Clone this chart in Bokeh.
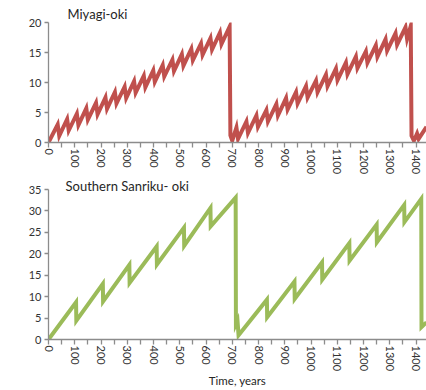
from bokeh.plotting import figure
from bokeh.layouts import column
from bokeh.models import FixedTicker, Range1d
from bokeh.embed import file_html
from bokeh.resources import INLINE

# ---- data ----
miyagi_years = [0, 35, 41, 71, 77, 108, 114, 144, 150, 181, 187, 217, 223, 253, 259,
                290, 296, 326, 332, 363, 369, 399, 405, 435, 441, 472, 478, 508, 514,
                544, 550, 581, 587, 617, 623, 653, 659, 690, 693, 700,
                716, 722, 754, 760, 792, 798, 830, 836, 868, 874, 905, 911, 943, 949,
                981, 987, 1019, 1025, 1057, 1063, 1095, 1101, 1133, 1139, 1171, 1177,
                1209, 1215, 1247, 1253, 1284, 1290, 1322, 1328, 1360, 1366, 1380, 1383,
                1392, 1404, 1410, 1440]
miyagi_slip = [0, 3.0, 1.1, 3.9, 2.0, 4.8, 2.9, 5.7, 3.8, 6.6, 4.7, 7.5, 5.6, 8.4, 6.5,
               9.3, 7.4, 10.2, 8.3, 11.1, 9.2, 12.0, 10.1, 12.9, 11.0, 13.8, 11.9, 14.7, 12.8,
               15.6, 13.7, 16.5, 14.6, 17.4, 15.5, 18.3, 16.4, 19.3, 1.2, 0.3,
               2.5, 0.6, 3.5, 1.6, 4.5, 2.6, 5.4, 3.5, 6.4, 4.5, 7.4, 5.5, 8.4, 6.5,
               9.4, 7.5, 10.3, 8.4, 11.3, 9.4, 12.3, 10.4, 13.3, 11.4, 14.3, 12.4,
               15.2, 13.3, 16.2, 14.3, 17.2, 15.3, 18.2, 16.3, 19.2, 17.3, 19.4, 1.1,
               0.3, 1.5, 0.6, 2.6]

sanriku_years = [0, 105, 106, 207, 208, 308, 309, 412, 413, 516, 517, 617, 618, 713, 714,
                 720, 724, 832, 833, 937, 938, 1042, 1043, 1146, 1147, 1250, 1251,
                 1355, 1356, 1420, 1421, 1440]
sanriku_slip = [0, 8.7, 4.4, 13.0, 8.9, 17.4, 13.2, 21.7, 17.5, 26.1, 21.9, 30.7, 26.4,
                33.1, 3.6, 4.4, 1.0, 9.3, 5.2, 13.5, 9.5, 18.0, 14.0, 22.5, 18.4, 26.8,
                22.7, 31.4, 27.4, 32.8, 2.9, 4.0]

x_major = [0, 100, 200, 300, 400, 500, 600, 700, 800, 900, 1000, 1100, 1200, 1300, 1400]
x_minor = [50, 150, 250, 350, 450, 550, 650, 750, 850, 950, 1050, 1150, 1250, 1350, 1450]
top_yticks = [0, 5, 10, 15, 20]
bottom_yticks = [0, 5, 10, 15, 20, 25, 30, 35]
titles = ["Miyagi-oki", "Southern Sanriku- oki"]
x_label = "Time, years"

FONT = "Lato"
AXIS_COL = "#8c8c8c"
TEXT_COL = "#333333"


def style(p, yticks, title, title_offset, title_standoff):
    p.xgrid.visible = False
    p.ygrid.visible = False
    p.outline_line_color = None
    p.xaxis.ticker = FixedTicker(ticks=x_major, minor_ticks=x_minor)
    p.yaxis.ticker = FixedTicker(ticks=yticks)
    for ax in (p.xaxis, p.yaxis):
        ax.axis_line_color = AXIS_COL
        ax.axis_line_width = 1.3
        ax.major_tick_line_color = AXIS_COL
        ax.minor_tick_line_color = AXIS_COL
        ax.major_tick_line_width = 1.3
        ax.minor_tick_line_width = 1.3
        ax.major_tick_in = 0
        ax.minor_tick_in = 0
        ax.major_label_text_font = FONT
        ax.major_label_text_font_size = "11px"
        ax.major_label_text_color = TEXT_COL
    p.xaxis.major_tick_out = 5
    p.xaxis.minor_tick_out = 5
    p.xaxis.major_label_orientation = "vertical"
    p.xaxis.major_label_standoff = 1
    p.yaxis.major_tick_out = 4
    p.yaxis.minor_tick_out = 0
    p.yaxis.major_label_standoff = 3
    p.title.text = title
    p.title.align = "left"
    p.title.offset = title_offset
    p.title.standoff = title_standoff
    p.title.text_font = FONT
    p.title.text_font_size = "13px"
    p.title.text_font_style = "normal"
    p.title.text_color = "#262626"


top = figure(width=426, height=178, output_backend="svg", toolbar_location=None,
             x_range=Range1d(0, 1440), y_range=Range1d(0, 20),
             min_border_left=48, min_border_right=0, min_border_top=22,
             min_border_bottom=36)
style(top, top_yticks, titles[0], 19, 2)
top.line(miyagi_years, miyagi_slip, line_color="#C0504D", line_width=4,
         line_join="miter")

bottom = figure(width=426, height=212, output_backend="svg", toolbar_location=None,
                x_range=Range1d(0, 1440), y_range=Range1d(0, 35),
                min_border_left=48, min_border_right=0, min_border_top=11,
                min_border_bottom=51)
style(bottom, bottom_yticks, titles[1], 17, -9)
bottom.line(sanriku_years, sanriku_slip, line_color="#9BBB59", line_width=4,
            line_join="miter")
bottom.xaxis.axis_label = x_label
bottom.xaxis.axis_label_text_font = FONT
bottom.xaxis.axis_label_text_font_size = "11.5px"
bottom.xaxis.axis_label_text_font_style = "normal"
bottom.xaxis.axis_label_text_color = "#262626"
bottom.xaxis.axis_label_standoff = 0

layout = column(top, bottom, spacing=0)
open("out.html", "w").write(file_html(layout, INLINE))
